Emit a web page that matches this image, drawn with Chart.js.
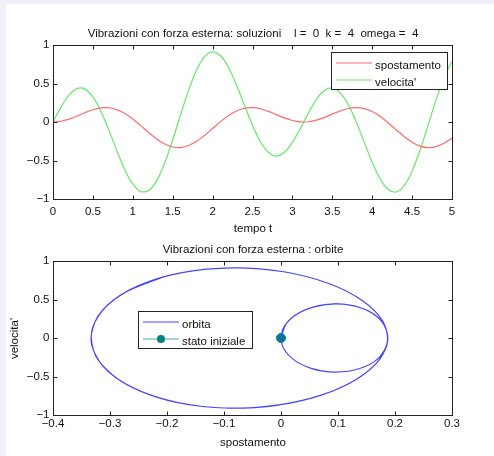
<!DOCTYPE html>
<html>
<head>
<meta charset="utf-8">
<script src="https://cdn.jsdelivr.net/npm/chart.js@4.4.1/dist/chart.umd.min.js"></script>
<style>
  body { margin: 0; background: #f0f0fa; width: 494px; height: 456px; overflow: hidden; position: relative; }
  #sheet { position: absolute; left: 6px; top: 4px; right: 0; bottom: 0; background: #fff; }
  canvas { position: absolute; left: 0; }
  #c1 { top: 0; }
  #c2 { top: 240px; }
</style>
</head>
<body>
<div id="sheet"></div>
<canvas id="c1" width="494" height="240"></canvas>
<canvas id="c2" width="494" height="216"></canvas>
<script>
// tempo t
const tempo = [0, 0.1, 0.2, 0.3, 0.4, 0.5, 0.6, 0.7, 0.8, 0.9,
  1.0, 1.1, 1.2, 1.3, 1.4, 1.5, 1.6, 1.7, 1.8, 1.9,
  2.0, 2.1, 2.2, 2.3, 2.4, 2.5, 2.6, 2.7, 2.8, 2.9,
  3.0, 3.1, 3.2, 3.3, 3.4, 3.5, 3.6, 3.7, 3.8, 3.9,
  4.0, 4.1, 4.2, 4.3, 4.4, 4.5, 4.6, 4.7, 4.8, 4.9, 5.0];

const spostamento = [0, 0.0098, 0.0374, 0.0772, 0.1210, 0.1594, 0.1833, 0.1854, 0.1615, 0.1116,
  0.0396, -0.0469, -0.1375, -0.2209, -0.2863, -0.3250, -0.3319, -0.3060, -0.2509, -0.1737,
  -0.0847, 0.0048, 0.0840, 0.1438, 0.1787, 0.1871, 0.1716, 0.1382, 0.0954, 0.0529,
  0.0194, 0.0017, 0.0034, 0.0241, 0.0596, 0.1029, 0.1447, 0.1757, 0.1875, 0.1747,
  0.1354, 0.0718, -0.0098, -0.1000, -0.1878, -0.2619, -0.3126, -0.3331, -0.3207, -0.2770, -0.2079];

const velocita = [0, 0.1934, 0.3484, 0.4332, 0.4273, 0.3257, 0.1396, -0.1052, -0.3721, -0.6196,
  -0.8076, -0.9039, -0.8893, -0.7608, -0.5325, -0.2333, 0.0972, 0.4146, 0.6766, 0.8492,
  0.9118, 0.8603, 0.7072, 0.4798, 0.2158, -0.0430, -0.2574, -0.3964, -0.4424, -0.3937,
  -0.2646, -0.0827, 0.1155, 0.2909, 0.4081, 0.4414, 0.3792, 0.2259, 0.0016, -0.2610,
  -0.5217, -0.7390, -0.8766, -0.9094, -0.8275, -0.6380, -0.3640, -0.0413, 0.2870, 0.5768, 0.7900];

// tick values and labels
const xTicksTop = [0, 0.5, 1, 1.5, 2, 2.5, 3, 3.5, 4, 4.5, 5];
const xLabelsTop = ['0', '0.5', '1', '1.5', '2', '2.5', '3', '3.5', '4', '4.5', '5'];
const yTicks = [-1, -0.5, 0, 0.5, 1];
const yLabels = ['\u22121', '\u22120.5', '0', '0.5', '1'];
const xTicksOrb = [-0.4, -0.3, -0.2, -0.1, 0, 0.1, 0.2, 0.3];
const xLabelsOrb = ['\u22120.4', '\u22120.3', '\u22120.2', '\u22120.1', '0', '0.1', '0.2', '0.3'];

const FONT = '"Liberation Sans", Arial, Helvetica, sans-serif';
const RED = '#ff6a6a', GREEN = '#66ea66', BLUE = '#4646ff', TEAL = '#008080';

const pts = (xs, ys) => xs.map((x, i) => ({ x: x, y: ys[i] }));

// draws the MATLAB-like box, inward ticks, labels, titles and legend
function framePlugin(o) {
  return {
    id: 'frame',
    afterDraw(chart) {
      const ctx = chart.ctx;
      const a = chart.chartArea;
      const xs = chart.scales.x, ys = chart.scales.y;
      const L = Math.round(a.left) + 0.5, R = Math.round(a.right) + 0.5;
      const T = Math.round(a.top) + 0.5, B = Math.round(a.bottom) + 0.5;
      ctx.save();
      ctx.strokeStyle = '#222';
      ctx.lineWidth = 1;
      ctx.beginPath();
      o.xTicks.forEach(v => {
        const p = Math.round(xs.getPixelForValue(v)) + 0.5;
        ctx.moveTo(p, B); ctx.lineTo(p, B - 4);
        ctx.moveTo(p, T); ctx.lineTo(p, T + 4);
      });
      yTicks.forEach(v => {
        const p = Math.round(ys.getPixelForValue(v)) + 0.5;
        ctx.moveTo(L, p); ctx.lineTo(L + 4, p);
        ctx.moveTo(R, p); ctx.lineTo(R - 4, p);
      });
      ctx.stroke();
      ctx.strokeRect(L, T, R - L, B - T);

      ctx.fillStyle = '#111';
      ctx.font = '11.5px ' + FONT;
      ctx.textBaseline = 'middle';
      ctx.textAlign = 'center';
      o.xTicks.forEach((v, i) => ctx.fillText(o.xLabels[i], xs.getPixelForValue(v), B + o.xLabelGap));
      ctx.textAlign = 'right';
      yTicks.forEach((v, i) => ctx.fillText(yLabels[i], L - 4, ys.getPixelForValue(v)));

      ctx.textAlign = 'center';
      ctx.fillText(o.title, (L + R) / 2, T - 12);
      ctx.fillText(o.xTitle, (L + R) / 2, o.xTitleY);
      if (o.yTitle) {
        ctx.save();
        ctx.translate(15, (T + B) / 2);
        ctx.rotate(-Math.PI / 2);
        ctx.fillText(o.yTitle, 0, 0);
        ctx.restore();
      }

      // legend
      const lg = o.legend;
      ctx.fillStyle = '#fff';
      ctx.fillRect(lg.x, lg.y, lg.w, lg.h);
      ctx.strokeStyle = '#222';
      ctx.strokeRect(lg.x + 0.5, lg.y + 0.5, lg.w, lg.h);
      ctx.textAlign = 'left';
      lg.items.forEach((it, i) => {
        const y = lg.y + 11 + i * 17;
        ctx.strokeStyle = it.color;
        ctx.lineWidth = 1.2;
        ctx.beginPath();
        ctx.moveTo(lg.x + 5, y); ctx.lineTo(lg.x + 41, y);
        ctx.stroke();
        if (it.marker) {
          ctx.fillStyle = it.marker;
          ctx.beginPath();
          ctx.arc(lg.x + 23, y, 4, 0, Math.PI * 2);
          ctx.fill();
        }
        ctx.fillStyle = '#111';
        ctx.fillText(it.text, lg.x + 44, y + 2.5);
      });
      ctx.restore();
    }
  };
}

new Chart(document.getElementById('c1'), {
  type: 'line',
  data: {
    datasets: [
      { label: 'spostamento', data: pts(tempo, spostamento), borderColor: RED, borderWidth: 1.2, pointRadius: 0, tension: 0.3 },
      { label: "velocita'", data: pts(tempo, velocita), borderColor: GREEN, borderWidth: 1.2, pointRadius: 0, tension: 0.3 }
    ]
  },
  options: {
    responsive: false,
    animation: false,
    devicePixelRatio: 1,
    layout: { padding: { left: 53, right: 42, top: 45, bottom: 41 } },
    plugins: { legend: { display: false }, tooltip: { enabled: false } },
    scales: {
      x: { type: 'linear', min: 0, max: 5, display: false },
      y: { min: -1, max: 1, display: false }
    }
  },
  plugins: [framePlugin({
    xTicks: xTicksTop, xLabels: xLabelsTop, xLabelGap: 12,
    title: "Vibrazioni con forza esterna: soluzioni    l =  0  k =  4  omega =  4",
    xTitle: 'tempo t', xTitleY: 229,
    legend: { x: 331, y: 52, w: 116, h: 37, items: [
      { text: 'spostamento', color: RED },
      { text: "velocita'", color: GREEN }
    ] }
  })]
});

new Chart(document.getElementById('c2'), {
  type: 'scatter',
  data: {
    datasets: [
      { label: 'orbita', data: pts(spostamento, velocita), showLine: true, borderColor: BLUE, borderWidth: 1.2, pointRadius: 0, tension: 0.3 },
      { label: 'stato iniziale', data: [{ x: spostamento[0], y: velocita[0] }], pointRadius: 4.5, pointBackgroundColor: TEAL, pointBorderColor: TEAL, showLine: false }
    ]
  },
  options: {
    responsive: false,
    animation: false,
    devicePixelRatio: 1,
    layout: { padding: { left: 53, right: 42, top: 21, bottom: 41 } },
    plugins: { legend: { display: false }, tooltip: { enabled: false } },
    scales: {
      x: { type: 'linear', min: -0.4, max: 0.3, display: false },
      y: { min: -1, max: 1, display: false }
    }
  },
  plugins: [framePlugin({
    xTicks: xTicksOrb, xLabels: xLabelsOrb, xLabelGap: 8,
    title: 'Vibrazioni con forza esterna : orbite',
    xTitle: 'spostamento', xTitleY: 203,
    yTitle: "velocita'",
    legend: { x: 138, y: 71, w: 114, h: 37, items: [
      { text: 'orbita', color: BLUE },
      { text: 'stato iniziale', color: '#55aaaa', marker: TEAL }
    ] }
  })]
});
</script>
</body>
</html>
